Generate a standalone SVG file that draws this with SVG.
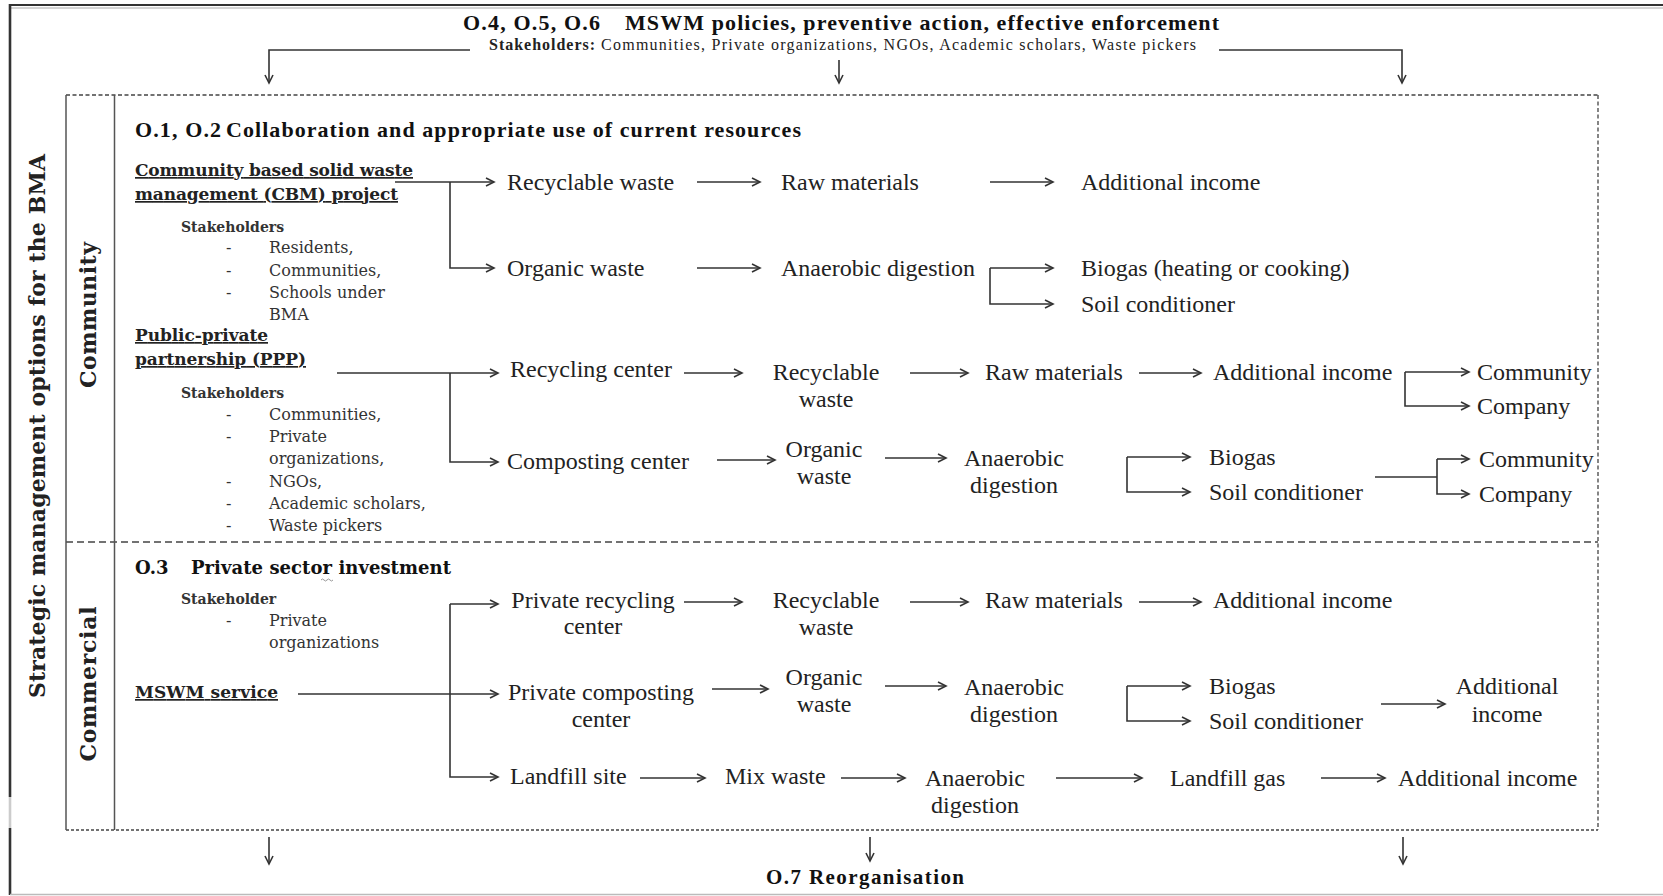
<svg xmlns="http://www.w3.org/2000/svg" width="1663" height="896" viewBox="0 0 1663 896">
<style>
.ln{stroke:#333;stroke-width:1.6;fill:none}
.ar{marker-end:url(#ah)}
.t{font-family:"Liberation Serif","Times New Roman",serif;font-size:24px;fill:#222}
.c{text-anchor:middle}
.s{font-family:"DejaVu Serif","Liberation Serif",serif;font-size:16px;fill:#333}
.sb{font-family:"DejaVu Serif","Liberation Serif",serif;font-size:14px;font-weight:bold;fill:#333}
.h{font-family:"DejaVu Serif","Liberation Serif",serif;font-size:17px;font-weight:bold;fill:#222;text-decoration:underline}
.hd{font-family:"Liberation Serif","Times New Roman",serif;font-size:22px;font-weight:bold;fill:#111}
.v{font-family:"DejaVu Serif","Liberation Serif",serif;font-size:22px;font-weight:bold;fill:#222;text-anchor:middle}
.dash{stroke:#444;stroke-width:1.3;fill:none}
</style>
<defs>
<marker id="ah" markerUnits="userSpaceOnUse" markerWidth="12" markerHeight="10" viewBox="0 0 12 10" refX="10" refY="5" orient="auto">
<path d="M2,1 L10,5 L2,9" fill="none" stroke="#333" stroke-width="1.6"/>
</marker>
</defs>
<rect width="1663" height="896" fill="#fff"/>
<g id="frame">
<line x1="10" y1="5" x2="1663" y2="5" stroke="#333" stroke-width="2.2"/>
<line x1="10" y1="8" x2="1663" y2="8" stroke="#aaa" stroke-width="1"/>
<line x1="10" y1="4" x2="10" y2="797" stroke="#333" stroke-width="2.6"/>
<line x1="10" y1="797" x2="10" y2="828" stroke="#ccc" stroke-width="2.6"/>
<line x1="10" y1="828" x2="10" y2="895" stroke="#333" stroke-width="2.6"/>
<line x1="10" y1="894.5" x2="1663" y2="894.5" stroke="#bbb" stroke-width="1.5"/>
</g>
<g id="box">
<line class="dash" x1="66" y1="95" x2="1598" y2="95" stroke-dasharray="4 2.5"/>
<line class="dash" x1="66" y1="830" x2="1598" y2="830" stroke-dasharray="3 2"/>
<line class="dash" x1="1598" y1="95" x2="1598" y2="830" stroke-dasharray="4 2.5"/>
<line class="dash" x1="66" y1="542" x2="1598" y2="542" stroke-dasharray="7 4"/>
<line x1="66" y1="95" x2="66" y2="830" stroke="#555" stroke-width="1.5"/>
<line x1="114.5" y1="95" x2="114.5" y2="830" stroke="#555" stroke-width="1.5"/>
</g>
<g id="title">
<text class="hd" x="463" y="30" textLength="137">O.4, O.5, O.6</text>
<text class="hd" x="625" y="30" textLength="594">MSWM policies, preventive action, effective enforcement</text>
<text class="t" x="489" y="50" style="font-size:16px;font-weight:bold" textLength="106">Stakeholders:</text>
<text class="t" x="601" y="50" style="font-size:16px" textLength="595">Communities, Private organizations, NGOs, Academic scholars, Waste pickers</text>
</g>
<g id="strategic"><text class="v" transform="translate(45,426) rotate(-90)" textLength="544">Strategic management options for the BMA</text></g>
<g id="community-label"><text class="v" transform="translate(96,315) rotate(-90)" textLength="146">Community</text></g>
<g id="commercial-label"><text class="v" transform="translate(96,684) rotate(-90)" textLength="155">Commercial</text></g>
<g id="o12"><text class="hd" x="135" y="137" textLength="86">O.1, O.2</text><text class="hd" x="226" y="137" textLength="575">Collaboration and appropriate use of current resources</text></g>
<g id="cbm">
<text class="h" x="135" y="176" textLength="278">Community based solid waste</text>
<text class="h" x="135" y="200" textLength="263">management (CBM) project</text>
</g>
<g id="cbm-stakeholders">
<text class="sb" x="181" y="232">Stakeholders</text>
<text class="s" x="226" y="253">-</text><text class="s" x="269" y="253">Residents,</text>
<text class="s" x="226" y="276">-</text><text class="s" x="269" y="276">Communities,</text>
<text class="s" x="226" y="298">-</text><text class="s" x="269" y="298">Schools under</text>
<text class="s" x="269" y="320">BMA</text>
</g>
<g id="ppp">
<text class="h" x="135" y="341" textLength="133">Public-private</text>
<text class="h" x="135" y="365" textLength="171">partnership (PPP)</text>
</g>
<g id="ppp-stakeholders">
<text class="sb" x="181" y="398">Stakeholders</text>
<text class="s" x="226" y="420">-</text><text class="s" x="269" y="420">Communities,</text>
<text class="s" x="226" y="442">-</text><text class="s" x="269" y="442">Private</text>
<text class="s" x="269" y="464">organizations,</text>
<text class="s" x="226" y="487">-</text><text class="s" x="269" y="487">NGOs,</text>
<text class="s" x="226" y="509">-</text><text class="s" x="269" y="509">Academic scholars,</text>
<text class="s" x="226" y="531">-</text><text class="s" x="269" y="531">Waste pickers</text>
</g>
<g id="n-r1-recyclable"><text class="t" x="507" y="190">Recyclable waste</text></g>
<g id="n-r1-raw"><text class="t" x="781" y="190">Raw materials</text></g>
<g id="n-r1-income"><text class="t" x="1081" y="190">Additional income</text></g>
<g id="n-r2-organic"><text class="t" x="507" y="276">Organic waste</text></g>
<g id="n-r2-ad"><text class="t" x="781" y="276">Anaerobic digestion</text></g>
<g id="n-r2-biogas"><text class="t" x="1081" y="276">Biogas (heating or cooking)</text></g>
<g id="n-r2-soil"><text class="t" x="1081" y="312">Soil conditioner</text></g>
<g id="n-r3-center"><text class="t" x="510" y="377">Recycling center</text></g>
<g id="n-r3-recyclable"><text class="t c" x="826" y="380">Recyclable</text><text class="t c" x="826" y="407">waste</text></g>
<g id="n-r3-raw"><text class="t" x="985" y="380">Raw materials</text></g>
<g id="n-r3-income"><text class="t" x="1213" y="380">Additional income</text></g>
<g id="n-r3-community"><text class="t" x="1477" y="380">Community</text></g>
<g id="n-r3-company"><text class="t" x="1477" y="414">Company</text></g>
<g id="n-r4-center"><text class="t" x="507" y="469">Composting center</text></g>
<g id="n-r4-organic"><text class="t c" x="824" y="457">Organic</text><text class="t c" x="824" y="484">waste</text></g>
<g id="n-r4-ad"><text class="t c" x="1014" y="466">Anaerobic</text><text class="t c" x="1014" y="493">digestion</text></g>
<g id="n-r4-biogas"><text class="t" x="1209" y="465">Biogas</text></g>
<g id="n-r4-soil"><text class="t" x="1209" y="500">Soil conditioner</text></g>
<g id="n-r4-community"><text class="t" x="1479" y="467">Community</text></g>
<g id="n-r4-company"><text class="t" x="1479" y="502">Company</text></g>
<g id="o3">
<text class="hd" x="135" y="574" style="font-family:'DejaVu Serif',serif;font-size:18px">O.3</text>
<text class="hd" x="191" y="574" style="font-family:'DejaVu Serif',serif;font-size:18px" textLength="260">Private sector investment</text>
<path d="M321,580 q1.5,-2 3,0 t3,0 t3,0 t3,0" fill="none" stroke="#999" stroke-width="1"/>
</g>
<g id="o3-stakeholder">
<text class="sb" x="181" y="604">Stakeholder</text>
<text class="s" x="226" y="626">-</text><text class="s" x="269" y="626">Private</text>
<text class="s" x="269" y="648">organizations</text>
</g>
<g id="mswm-service"><text class="h" x="135" y="698" textLength="143">MSWM service</text></g>
<g id="n-r5-center"><text class="t c" x="593" y="608">Private recycling</text><text class="t c" x="593" y="634">center</text></g>
<g id="n-r5-recyclable"><text class="t c" x="826" y="608">Recyclable</text><text class="t c" x="826" y="635">waste</text></g>
<g id="n-r5-raw"><text class="t" x="985" y="608">Raw materials</text></g>
<g id="n-r5-income"><text class="t" x="1213" y="608">Additional income</text></g>
<g id="n-r6-center"><text class="t c" x="601" y="700">Private composting</text><text class="t c" x="601" y="727">center</text></g>
<g id="n-r6-organic"><text class="t c" x="824" y="685">Organic</text><text class="t c" x="824" y="712">waste</text></g>
<g id="n-r6-ad"><text class="t c" x="1014" y="695">Anaerobic</text><text class="t c" x="1014" y="722">digestion</text></g>
<g id="n-r6-biogas"><text class="t" x="1209" y="694">Biogas</text></g>
<g id="n-r6-soil"><text class="t" x="1209" y="729">Soil conditioner</text></g>
<g id="n-r6-income"><text class="t c" x="1507" y="694">Additional</text><text class="t c" x="1507" y="722">income</text></g>
<g id="n-r7-landfill"><text class="t" x="510" y="784">Landfill site</text></g>
<g id="n-r7-mix"><text class="t" x="725" y="784">Mix waste</text></g>
<g id="n-r7-ad"><text class="t c" x="975" y="786">Anaerobic</text><text class="t c" x="975" y="813">digestion</text></g>
<g id="n-r7-gas"><text class="t" x="1170" y="786">Landfill gas</text></g>
<g id="n-r7-income"><text class="t" x="1398" y="786">Additional income</text></g>
<g id="o7"><text class="hd" x="766" y="884" style="font-size:21px" textLength="198">O.7 Reorganisation</text></g>
<g id="connectors">
<path class="ln ar" d="M470,50 H269 V83"/>
<path class="ln ar" d="M839,60 V83"/>
<path class="ln ar" d="M1219,50 H1402 V83"/>
<path class="ln ar" d="M395,182 H494"/>
<path class="ln ar" d="M450,182 V268 H494"/>
<path class="ln ar" d="M697,182 H760"/>
<path class="ln ar" d="M990,182 H1053"/>
<path class="ln ar" d="M697,268 H760"/>
<path class="ln ar" d="M990,268 H1053"/>
<path class="ln ar" d="M990,268 V304 H1053"/>
<path class="ln ar" d="M337,373 H498"/>
<path class="ln ar" d="M450,373 V462 H498"/>
<path class="ln ar" d="M684,373 H742"/>
<path class="ln ar" d="M910,373 H968"/>
<path class="ln ar" d="M1139,373 H1201"/>
<path class="ln ar" d="M1405,372 H1469"/>
<path class="ln ar" d="M1405,372 V406 H1469"/>
<path class="ln ar" d="M717,460 H775"/>
<path class="ln ar" d="M885,458 H946"/>
<path class="ln ar" d="M1127,457 H1190"/>
<path class="ln ar" d="M1127,457 V492 H1190"/>
<path class="ln" d="M1375,477 H1437" stroke="#777"/>
<path class="ln ar" d="M1437,459 H1469"/>
<path class="ln ar" d="M1437,459 V494 H1469"/>
<path class="ln ar" d="M298,694 H498"/>
<path class="ln ar" d="M450,604 H498"/>
<path class="ln ar" d="M450,604 V777 H498"/>
<path class="ln ar" d="M684,602 H742"/>
<path class="ln ar" d="M910,602 H968"/>
<path class="ln ar" d="M1139,602 H1201"/>
<path class="ln ar" d="M712,689 H768"/>
<path class="ln ar" d="M885,686 H946"/>
<path class="ln ar" d="M1127,686 H1190"/>
<path class="ln ar" d="M1127,686 V721 H1190"/>
<path class="ln ar" d="M1381,704 H1445"/>
<path class="ln ar" d="M640,778 H705"/>
<path class="ln ar" d="M841,778 H905"/>
<path class="ln ar" d="M1056,778 H1142"/>
<path class="ln ar" d="M1321,778 H1385"/>
<path class="ln ar" d="M269,837 V864"/>
<path class="ln ar" d="M870,837 V861"/>
<path class="ln ar" d="M1403,837 V864"/>
</g>
</svg>
